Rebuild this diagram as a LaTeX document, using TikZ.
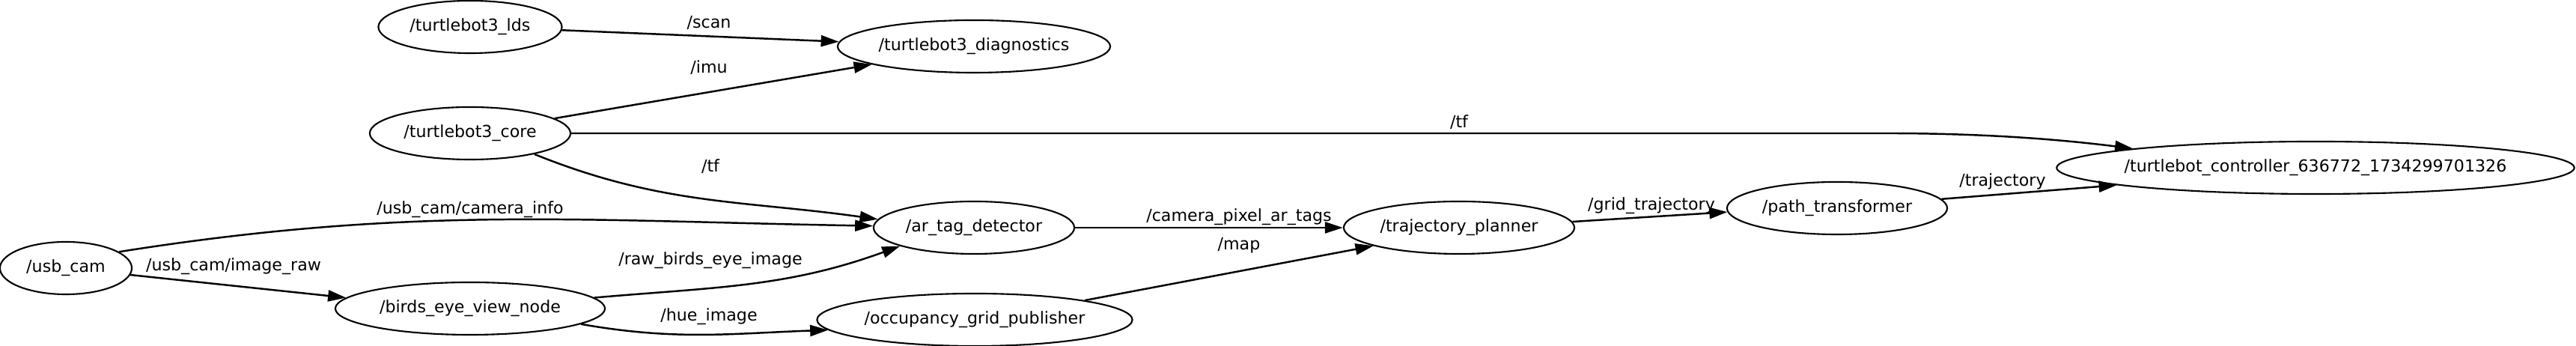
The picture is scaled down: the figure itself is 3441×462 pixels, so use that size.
\documentclass[tikz,border=0pt]{standalone}
\usepackage{fontspec}
\setmainfont{DejaVu Sans}
\usetikzlibrary{shapes.geometric,arrows.meta}

\begin{document}
\begin{tikzpicture}[x=0.01cm, y=-0.01cm,
		rosnode/.style={ellipse, draw, line width=0.6pt, minimum height=0.7cm, inner xsep=-3mm, inner ysep=0pt, font=\fontsize{6.3pt}{7.6pt}\selectfont},
		topic/.style={inner sep=0pt, font=\fontsize{6.3pt}{7.6pt}\selectfont},
		edge/.style={line width=0.7pt, -{Triangle[length=0.24cm, width=0.15cm]}}]
		\useasboundingbox (0,0) rectangle (3441,462);
		
		% Nodes
		\node[rosnode, minimum width=2.45cm] (lds) at (628,36) {/turtlebot3\_lds};
		\node[rosnode, minimum width=3.64cm] (diag) at (1301,62) {/turtlebot3\_diagnostics};
		\node[rosnode, minimum width=2.68cm] (core) at (628,178) {/turtlebot3\_core};
		\node[rosnode, minimum width=1.76cm] (usbcam) at (88,358) {/usb\_cam};
		\node[rosnode, minimum width=3.60cm] (birds) at (628,412) {/birds\_eye\_view\_node};
		\node[rosnode, minimum width=2.68cm] (artag) at (1301,304) {/ar\_tag\_detector};
		\node[rosnode, minimum width=4.21cm] (occ) at (1302,427) {/occupancy\_grid\_publisher};
		\node[rosnode, minimum width=3.08cm] (planner) at (1949,304) {/trajectory\_planner};
		\node[rosnode, minimum width=2.94cm] (pathtf) at (2454,278) {/path\_transformer};
		\node[rosnode, minimum width=6.91cm] (ctrl) at (3093,224) {/turtlebot\_controller\_636772\_1734299701326};
		
		% Topic labels
		\node[topic] (t_scan) at (947,30) {/scan};
		\node[topic] (t_imu) at (947,90) {/imu};
		\node[topic] (t_tfctrl) at (1949,163) {/tf};
		\node[topic] (t_tfar) at (949,222) {/tf};
		\node[topic] (t_info) at (628,280) {/usb\_cam/camera\_info};
		\node[topic] (t_raw) at (312,356) {/usb\_cam/image\_raw};
		\node[topic] (t_bird) at (949,348) {/raw\_birds\_eye\_image};
		\node[topic] (t_hue) at (947,423) {/hue\_image};
		\node[topic] (t_pix) at (1655,290) {/camera\_pixel\_ar\_tags};
		\node[topic] (t_map) at (1655,328) {/map};
		\node[topic] (t_grid) at (2206,275) {/grid\_trajectory};
		\node[topic] (t_traj) at (2675,242) {/trajectory};
		
		% Edges
		\draw[edge] (lds.-2) -- (diag.178);
		\draw[edge] (core.10) -- (diag.-170);
		\draw[edge] (core.east) -- (2520,178) .. controls (2650,178) and (2750,186) .. (ctrl.174);
		\draw[edge] (core.-18) to[out=-22, in=172] (artag.175);
		\draw[edge] (usbcam.17) to[out=9, in=179] (artag.179);
		\draw[edge] (usbcam.-6) -- (birds.175);
		\draw[edge] (birds.5) to[out=5, in=-160] (artag.-166);
		\draw[edge] (birds.-8) to[out=-10, in=-178] (occ.-176);
		\draw[edge] (artag.east) -- (planner.west);
		\draw[edge] (occ.10) -- (planner.-168);
		\draw[edge] (planner.3) -- (pathtf.-178);
		\draw[edge] (pathtf.5) -- (ctrl.-175);
	\end{tikzpicture}
\end{document}
